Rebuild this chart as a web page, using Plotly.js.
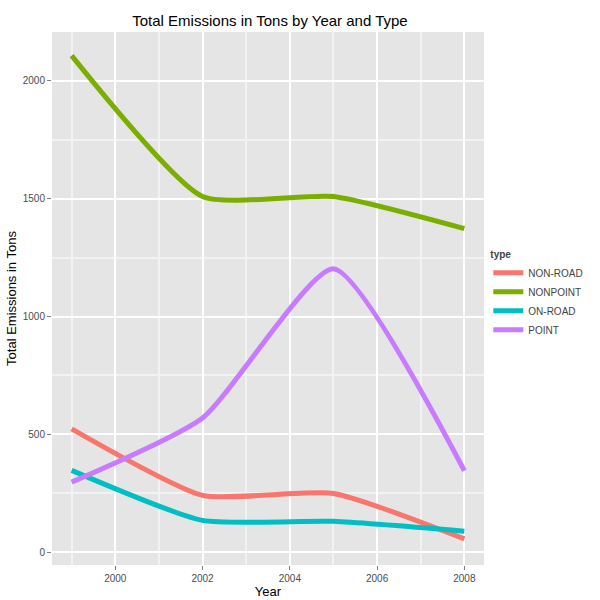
<!DOCTYPE html>
<html><head><script src="https://cdn.plot.ly/plotly-3.0.0.min.js"></script></head>
<body style="margin:0"><div id="c" style="width:600px;height:600px"></div>
<script>
const years=[1999,2002,2005,2008];
const types=["NON-ROAD","NONPOINT","ON-ROAD","POINT"];
const nonroad=[522.9,240.8,248.9,55.8];
const nonpoint=[2107.6,1509.5,1509.5,1373.2];
const onroad=[346.8,134.3,130.4,88.3];
const point=[296.8,569.3,1202.5,345.0];
const colors=["#F8766D","#7CAE00","#00BFC4","#C77CFF"];
const series=[nonroad,nonpoint,onroad,point];
const data=series.map((s,i)=>({x:years,y:s,name:types[i],type:"scatter",mode:"lines",
 line:{color:colors[i],width:5,shape:"spline",smoothing:0.55}}));
Plotly.newPlot("c",data,{
 width:600,height:600,paper_bgcolor:"white",plot_bgcolor:"#E5E5E5",
 margin:{l:52,r:113,t:32,b:35},
 font:{family:"Liberation Sans, Arial",size:12},
 title:{text:"Total Emissions in Tons by Year and Type",x:0.45,y:0.975,font:{size:15,color:"black"}},
 xaxis:{range:[1998.55,2008.45],tickvals:[2000,2002,2004,2006,2008],gridcolor:"white",gridwidth:1.5,
  minor:{dtick:1,gridcolor:"#F2F2F2",showgrid:true},zeroline:false,ticks:"outside",ticklen:4,tickcolor:"#7F7F7F",
  tickfont:{size:10,color:"#4D4D4D"},title:{text:"Year",standoff:2,font:{size:13,color:"black"}}},
 yaxis:{range:[-55,2208],tickvals:[0,500,1000,1500,2000],gridcolor:"white",gridwidth:1.5,
  minor:{dtick:250,gridcolor:"#F2F2F2",showgrid:true},zeroline:false,ticks:"outside",ticklen:4,tickcolor:"#7F7F7F",
  tickfont:{size:10,color:"#4D4D4D"},title:{text:"Total Emissions in Tons",font:{size:13,color:"black"}}},
 legend:{x:1.01,y:0.6,yanchor:"top",title:{text:"<b>type</b>",font:{size:10}},font:{size:10},tracegroupgap:0,bgcolor:"white"},
 showlegend:true
},{displayModeBar:false});
</script></body></html>
